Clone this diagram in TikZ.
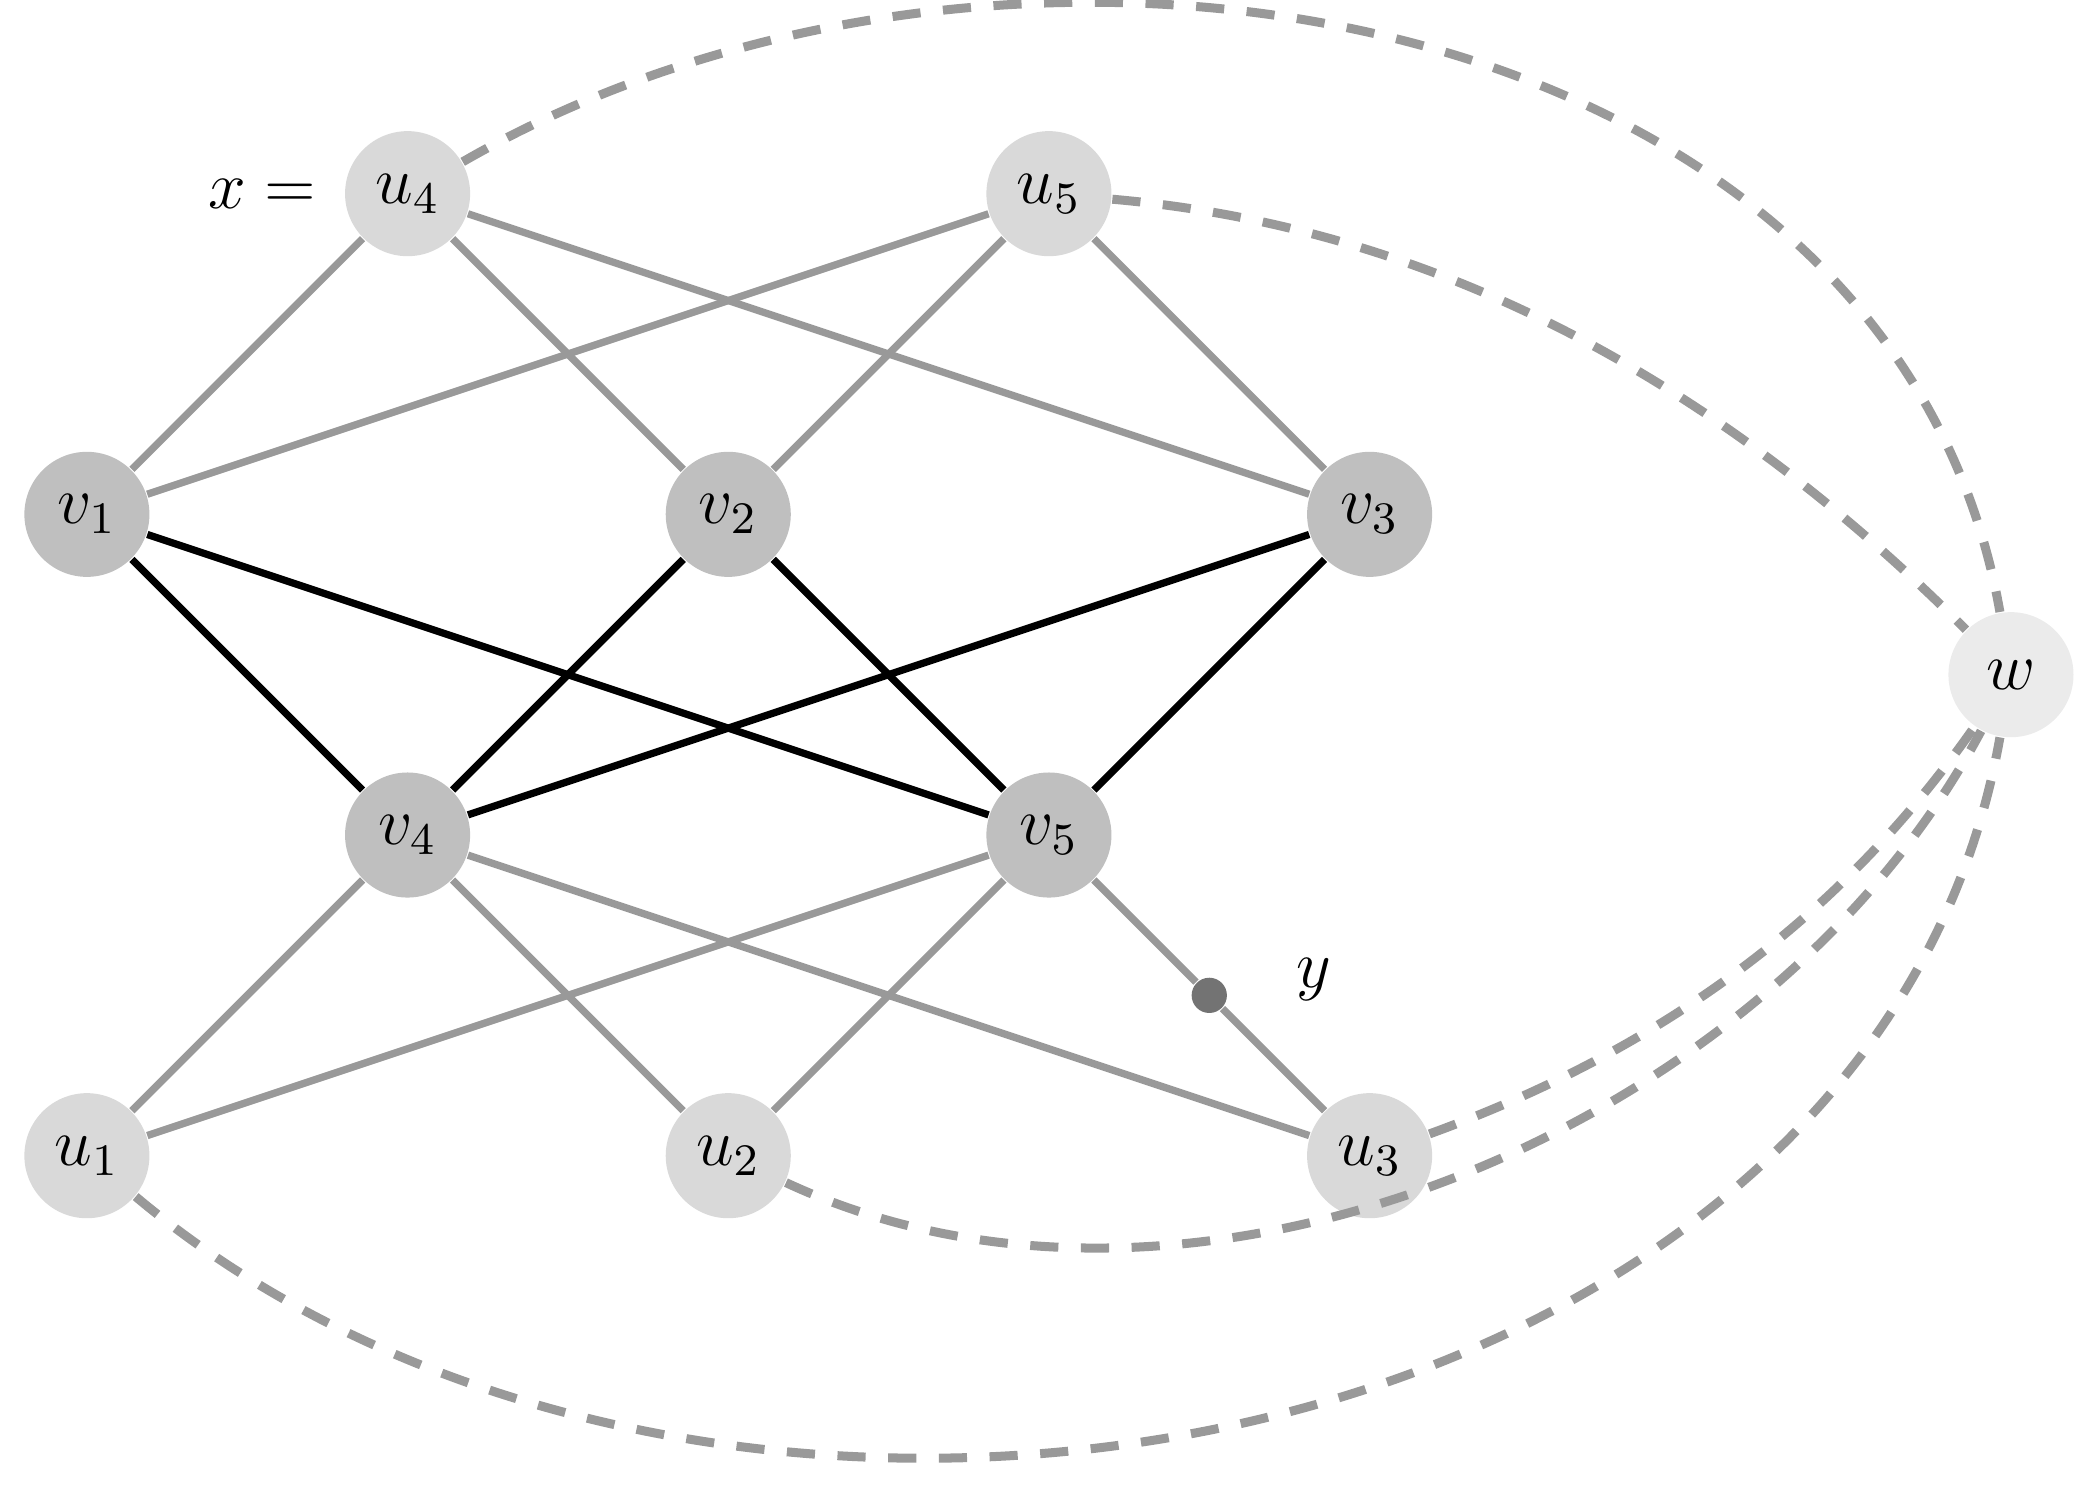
\documentclass[tikz,border=0pt]{standalone}
\usetikzlibrary{positioning}

\begin{document}
\begin{tikzpicture}[
  x=2cm,y=2cm,
  vert/.style={circle,fill=black!25,minimum size=7.8mm,inner sep=0pt,font=\large},
  uvert/.style={vert,fill=black!15},
  wvert/.style={vert,fill=black!8},
  light/.style={draw=black!40,line width=1.3pt},
  dark/.style={draw=black,line width=1.3pt},
  dashline/.style={draw=black!40,line width=1.6pt,dash pattern=on 5pt off 4pt}
]
\useasboundingbox (0,0) rectangle (6.533,-4.7125);

% v row and u rows
\node[vert] (v1) at (0.271,-1.604) {$v_1$};
\node[vert] (v2) at (2.271,-1.604) {$v_2$};
\node[vert] (v3) at (4.271,-1.604) {$v_3$};
\node[vert] (v4) at (1.271,-2.604) {$v_4$};
\node[vert] (v5) at (3.271,-2.604) {$v_5$};
\node[uvert] (u1) at (0.271,-3.604) {$u_1$};
\node[uvert] (u2) at (2.271,-3.604) {$u_2$};
\node[uvert] (u3) at (4.271,-3.604) {$u_3$};
\node[uvert] (u4) at (1.271,-0.604) {$u_4$};
\node[uvert] (u5) at (3.271,-0.604) {$u_5$};
\node[wvert] (w) at (6.271,-2.104) {$w$};

\node[font=\large,left=0.5mm of u4] {$x=$};
\node[circle,fill=black!55,minimum size=2.2mm,inner sep=0pt] (y) at (3.771,-3.104) {};
\node[font=\large,right=3mm of y,yshift=1mm] {$y$};

% gray edges
\foreach \a/\b in {u4/v1,u4/v2,u4/v3,u5/v1,u5/v2,u5/v3,v4/u1,v4/u2,v4/u3,v5/u1,v5/u2,v5/y,y/u3}
  \draw[light] (\a) -- (\b);

% black edges
\foreach \a/\b in {v1/v4,v1/v5,v2/v4,v2/v5,v3/v4,v3/v5}
  \draw[dark] (\a) -- (\b);

% dashed curves to w
\draw[dashline] (u4) to[out=30,in=100,looseness=1.0] (w);
\draw[dashline] (u5) to[out=-5,in=135,looseness=0.9] (w);
\draw[dashline] (u3) to[out=20,in=-125,looseness=0.9] (w);
\draw[dashline] (u2) to[out=-25,in=-118,looseness=0.9] (w);
\draw[dashline] (u1) to[out=-40,in=-100,looseness=1.0] (w);
\end{tikzpicture}
\end{document}
